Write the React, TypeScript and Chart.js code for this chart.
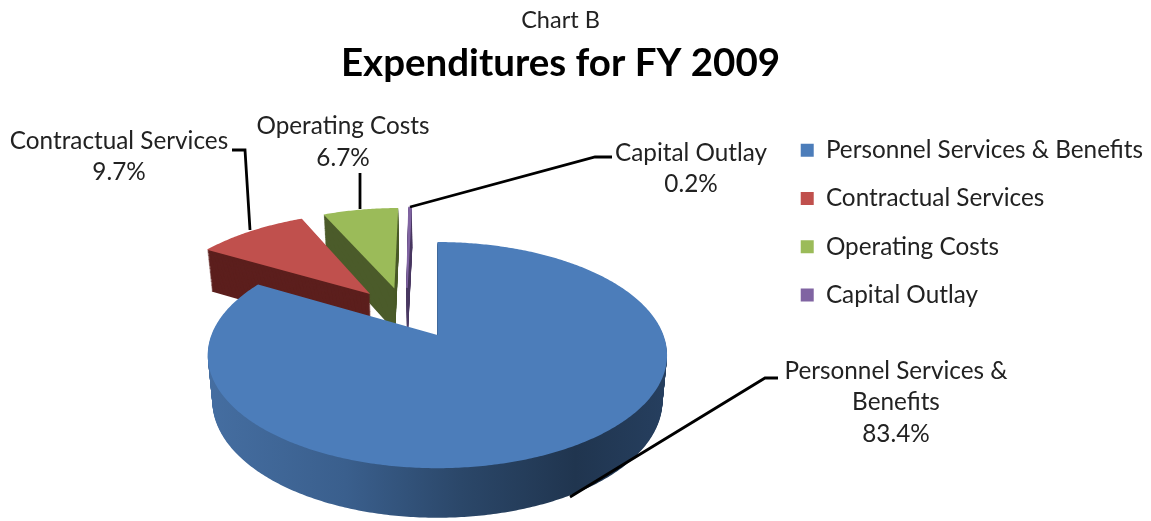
import React, { useEffect, useRef } from "react";
import { Chart, registerables } from "chart.js";

Chart.register(...registerables);

const categories = ["Personnel Services & Benefits", "Contractual Services", "Operating Costs", "Capital Outlay"];
const shares = [83.4, 9.7, 6.7, 0.2];
const topColors = ["#4c7dba", "#c0504d", "#9bbb59", "#8064a2"];
const wallColors = ["", "#5c1f1d", "#4b5b2a", "#4b3a63"];

const FONT = "Lato, Carlito, sans-serif";
const W = 1151;
const H = 521;

// Projection of the exploded pie.
const PIE = { cx: 437.5, cy: 335, radius: 226, tilt: 0.4845, persp: 0.177, depth: 45, taper: 0.02, explode: 0.25, ox: -0.125, oy: 0.216 };
const sliceNudge = [0, -0.026, -0.026, -0.02];
const drawOrder = [2, 3, 1, 0];

const pieLabels = [
  { lines: ["Personnel Services &", "Benefits", "83.4%"], x: 896, y: [371, 402, 434], leader: [[778, 378], [765, 378], [570, 497]] },
  { lines: ["Contractual Services", "9.7%"], x: 119, y: [141, 172], leader: [[232, 150], [245, 150], [250, 230]] },
  { lines: ["Operating Costs", "6.7%"], x: 343, y: [126, 158], leader: [[360, 173], [360, 209]] },
  { lines: ["Capital Outlay", "0.2%"], x: 691, y: [153, 184], leader: [[612, 157], [595, 157], [410, 207]] },
];

function project(u: number, v: number, t: number) {
  const s = 1 / (1 + PIE.persp * v);
  return {
    x: PIE.cx + PIE.radius * u * s * (1 - PIE.taper * t),
    y: PIE.cy - PIE.radius * PIE.tilt * v * s + t * PIE.depth * Math.sqrt(s),
  };
}

function slicePath(ctx: CanvasRenderingContext2D, arc: any, idx: number, t: number) {
  const mid = (arc.startAngle + arc.endAngle) / 2;
  const du = PIE.ox + sliceNudge[idx] + PIE.explode * Math.cos(mid);
  const dv = PIE.oy - PIE.explode * Math.sin(mid);
  ctx.beginPath();
  const apex = project(du, dv, t);
  ctx.moveTo(apex.x, apex.y);
  const n = Math.max(2, Math.ceil((arc.endAngle - arc.startAngle) * 90));
  for (let i = 0; i <= n; i++) {
    const a = arc.startAngle + ((arc.endAngle - arc.startAngle) * i) / n;
    const p = project(du + Math.cos(a), dv - Math.sin(a), t);
    ctx.lineTo(p.x, p.y);
  }
  ctx.closePath();
}

const piePlugin = {
  id: "tiltedPie",
  beforeDatasetsDraw(chart: any) {
    const ctx: CanvasRenderingContext2D = chart.ctx;
    const arcs = chart.getDatasetMeta(0).data;
    const blueWall = ctx.createLinearGradient(PIE.cx - 230, 0, PIE.cx + 230, 0);
    blueWall.addColorStop(0, "#456ea1");
    blueWall.addColorStop(0.3, "#3a5f8d");
    blueWall.addColorStop(0.55, "#2b4769");
    blueWall.addColorStop(0.8, "#20354f");
    blueWall.addColorStop(1, "#263f5f");
    ctx.save();
    for (const idx of drawOrder) {
      const arc = arcs[idx];
      const wall = idx === 0 ? blueWall : wallColors[idx];
      const thin = arc.endAngle - arc.startAngle < 0.05;
      for (let d = PIE.depth; d >= 1; d--) {
        slicePath(ctx, arc, idx, d / PIE.depth);
        ctx.fillStyle = wall;
        ctx.fill();
        if (thin) {
          ctx.strokeStyle = wall;
          ctx.lineWidth = 1.2;
          ctx.stroke();
        }
      }
      slicePath(ctx, arc, idx, 0);
      ctx.fillStyle = arc.options.backgroundColor;
      ctx.fill();
      if (thin) {
        ctx.strokeStyle = arc.options.backgroundColor;
        ctx.lineWidth = 1.5;
        ctx.stroke();
      }
    }
    ctx.restore();
    return false;
  },
  afterDraw(chart: any) {
    const ctx: CanvasRenderingContext2D = chart.ctx;
    ctx.save();
    ctx.strokeStyle = "#000";
    ctx.lineWidth = 2.8;
    ctx.lineJoin = "miter";
    for (const l of pieLabels) {
      ctx.beginPath();
      l.leader.forEach((p, i) => (i ? ctx.lineTo(p[0], p[1]) : ctx.moveTo(p[0], p[1])));
      ctx.stroke();
    }
    ctx.fillStyle = "#222";
    ctx.font = `24.3px ${FONT}`;
    ctx.textAlign = "center";
    ctx.textBaseline = "middle";
    for (const l of pieLabels) {
      l.lines.forEach((s, i) => ctx.fillText(s, l.x, l.y[i]));
    }
    ctx.restore();
  },
};

export default function App() {
  const ref = useRef<HTMLCanvasElement>(null);
  useEffect(() => {
    document.body.style.margin = "0";
    const chart = new Chart(ref.current!, {
      type: "pie",
      data: {
        labels: categories,
        datasets: [{ data: shares, backgroundColor: topColors, borderWidth: 0, radius: PIE.radius }],
      },
      options: {
        responsive: false,
        animation: false,
        layout: { padding: { left: -32, right: -2 } },
        plugins: {
          title: {
            display: true,
            text: "Chart B",
            color: "#222",
            font: { family: FONT, size: 23.5, weight: "normal" },
            padding: { top: 6, bottom: 6 },
          },
          subtitle: {
            display: true,
            text: "Expenditures for FY 2009",
            color: "#000",
            font: { family: FONT, size: 38.5, weight: "bold" },
            padding: { top: 0, bottom: 8 },
          },
          legend: {
            position: "right",
            align: "start",
            title: { display: true, text: " ", font: { family: FONT, size: 10 }, padding: { top: 102, bottom: 0 } },
            labels: { boxWidth: 13, boxHeight: 13, padding: 24, color: "#222", font: { family: FONT, size: 24.3 } },
          },
          tooltip: { enabled: false },
        },
      } as any,
      plugins: [piePlugin],
    });
    return () => chart.destroy();
  }, []);
  return <canvas ref={ref} width={W} height={H} style={{ display: "block", width: W, height: H }} />;
}
